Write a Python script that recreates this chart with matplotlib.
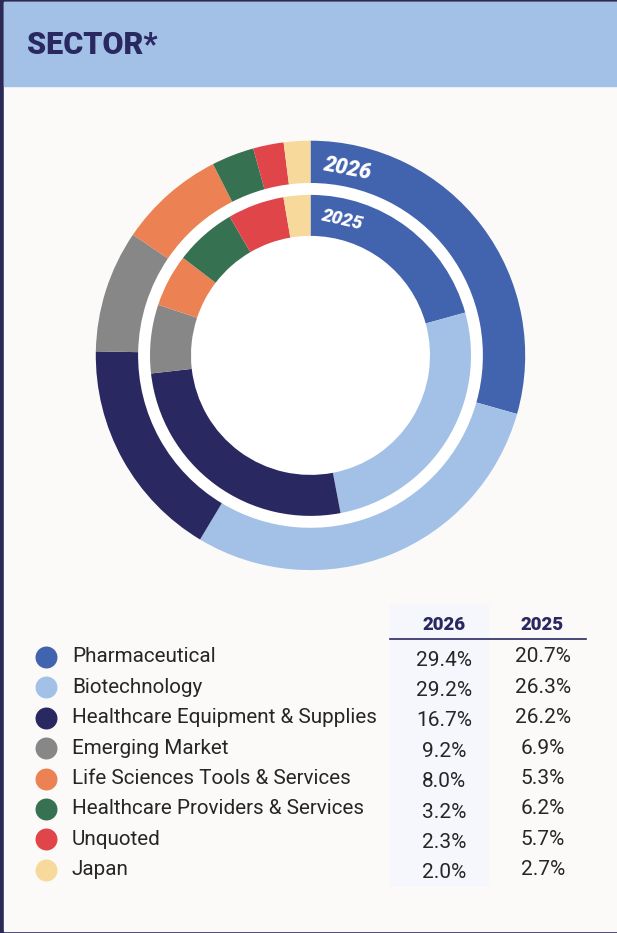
import matplotlib
matplotlib.use("Agg")
import matplotlib.pyplot as plt
from matplotlib.patches import Rectangle, Circle

sectors = ["Pharmaceutical", "Biotechnology", "Healthcare Equipment & Supplies",
           "Emerging Market", "Life Sciences Tools & Services",
           "Healthcare Providers & Services", "Unquoted", "Japan"]
share_2026 = [29.4, 29.2, 16.7, 9.2, 8.0, 3.2, 2.3, 2.0]
share_2025 = [20.7, 26.3, 26.2, 6.9, 5.3, 6.2, 5.7, 2.7]
years = ["2026", "2025"]
colors = ["#4263ae", "#a3c1e6", "#2a2860", "#878787",
          "#ec8153", "#367152", "#e0454a", "#f8d99c"]

W, H = 617, 933
NAVY = "#2a2860"
TXT = "#262626"
plt.rcParams["font.family"] = ["Roboto", "DejaVu Sans"]


def Y(y):
    # pixel row (top-down) -> data y (bottom-up)
    return H - y


fig = plt.figure(figsize=(W / 100, H / 100), dpi=100, facecolor="#2b2a55")
ax = fig.add_axes([0, 0, 1, 1])

# card + header band
ax.add_patch(Rectangle((4, Y(931)), W - 4, 929, color="#fbfaf8", zorder=0))
ax.add_patch(Rectangle((4, Y(86)), W - 4, 84, color="#a3c1e6", zorder=1))
ax.text(27, Y(45), "SECTOR*", fontsize=22, fontweight="black", color=NAVY,
        va="center", ha="left", zorder=2)

# double donut: outer ring 2026, inner ring 2025
cx, cy = 310.5, Y(355.4)
ax.add_patch(Circle((cx, cy), 172.5, color="white", zorder=1))
ax.pie(share_2026, colors=colors, radius=214.7, center=(cx, cy),
       startangle=90, counterclock=False,
       wedgeprops=dict(width=42.3, linewidth=0))
ax.pie(share_2025, colors=colors, radius=160.5, center=(cx, cy),
       startangle=90, counterclock=False,
       wedgeprops=dict(width=41, linewidth=0))
ax.text(347, Y(168.5), years[0], fontsize=15.5, fontweight="black", style="italic",
        color="white", rotation=-11, ha="center", va="center", zorder=5)
ax.text(342, Y(219.5), years[1], fontsize=13.5, fontweight="black", style="italic",
        color="white", rotation=-13, ha="center", va="center", zorder=5)

# legend table
row0, step = 657, 30.4
ax.add_patch(Rectangle((390, Y(885)), 98, 280, color="#f5f7fc", zorder=1))
ax.plot([390, 586], [Y(639), Y(639)], color=NAVY, lw=1.2, zorder=2)
ax.text(444, Y(625), years[0], fontsize=13.5, fontweight="black", color=NAVY,
        ha="center", va="center", zorder=3)
ax.text(542, Y(625), years[1], fontsize=13.5, fontweight="black", color=NAVY,
        ha="center", va="center", zorder=3)
for i, name in enumerate(sectors):
    y = Y(row0 + i * step)
    ax.scatter([46], [y], s=250, color=colors[i], linewidths=0, zorder=3)
    ax.text(72, y, name, fontsize=14.9, color=TXT,
            ha="left", va="center", zorder=3)
    ax.text(444, y - 3, f"{share_2026[i]:.1f}%", fontsize=15,
            color=TXT, ha="center", va="center", zorder=3)
    ax.text(543, y, f"{share_2025[i]:.1f}%", fontsize=15,
            color=TXT, ha="center", va="center", zorder=3)

ax.set_xlim(0, W)
ax.set_ylim(0, H)
ax.set_aspect("equal")
ax.axis("off")
fig.savefig("out.png", dpi=100, facecolor=fig.get_facecolor())
